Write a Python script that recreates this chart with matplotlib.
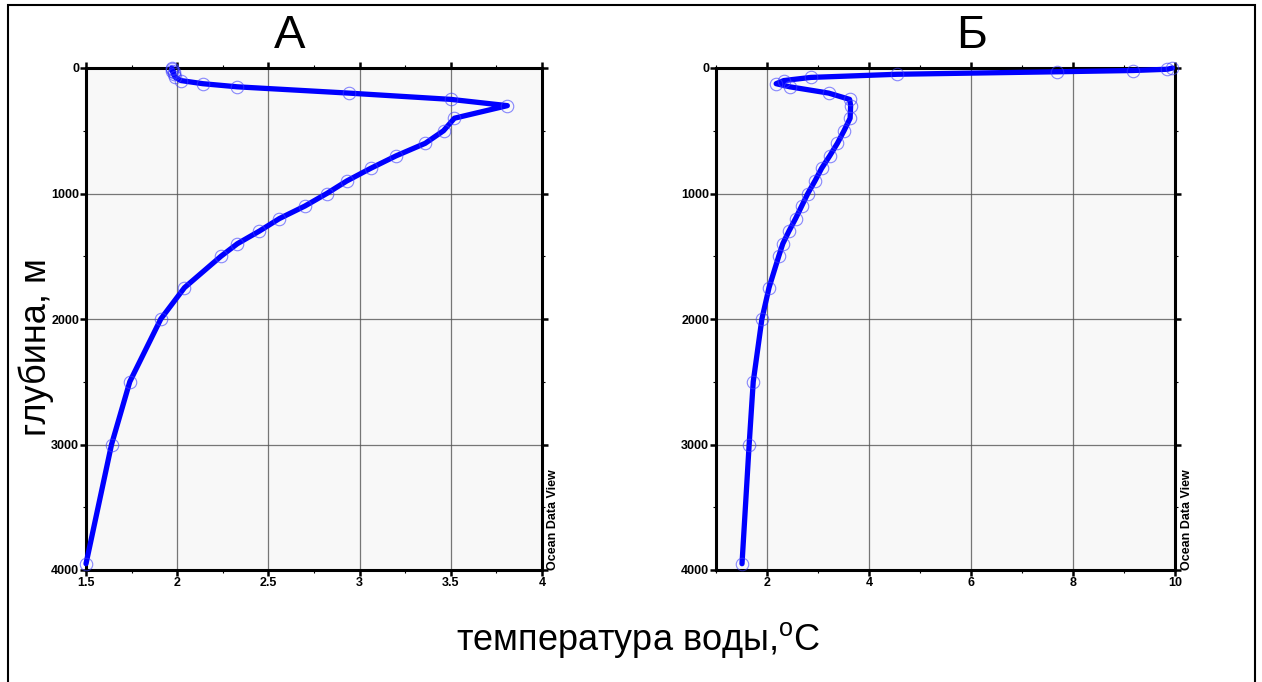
import numpy as np
import matplotlib
matplotlib.use("Agg")
import matplotlib.pyplot as plt
from matplotlib.patches import Rectangle
from matplotlib.ticker import MultipleLocator

plt.rcParams['font.family'] = ['Liberation Sans', 'DejaVu Sans']
plt.rcParams['mathtext.fontset'] = 'custom'
plt.rcParams['mathtext.rm'] = 'Liberation Sans'

# ---------------- data ----------------
depth_a = [0, 10, 20, 30, 50, 75, 100, 125, 150, 200, 250, 300, 400, 500, 600,
           700, 800, 900, 1000, 1100, 1200, 1300, 1400, 1500, 1750, 2000,
           2500, 3000, 3950]
temp_a = [1.97, 1.97, 1.97, 1.98, 1.98, 1.99, 2.02, 2.14, 2.33, 2.94, 3.50, 3.81,
          3.52, 3.46, 3.36, 3.20, 3.06, 2.93, 2.82, 2.70, 2.56, 2.45, 2.33,
          2.24, 2.04, 1.91, 1.74, 1.64, 1.50]

depth_b = [0, 10, 20, 30, 50, 75, 100, 125, 150, 200, 250, 300, 400, 500, 600,
           700, 800, 900, 1000, 1100, 1200, 1300, 1400, 1500, 1750, 2000,
           2500, 3000, 3950]
temp_b = [9.95, 9.85, 9.17, 7.69, 4.55, 2.86, 2.33, 2.18, 2.45, 3.21, 3.62, 3.64,
          3.63, 3.51, 3.38, 3.23, 3.07, 2.94, 2.80, 2.68, 2.56, 2.43, 2.31,
          2.23, 2.04, 1.90, 1.73, 1.65, 1.51]

xticks_a = [1.5, 2, 2.5, 3, 3.5, 4]
xtick_labels_a = ["1.5", "2", "2.5", "3", "3.5", "4"]
xticks_b = [2, 4, 6, 8, 10]
xtick_labels_b = ["2", "4", "6", "8", "10"]
yticks = [0, 1000, 2000, 3000, 4000]
ytick_labels = ["0", "1000", "2000", "3000", "4000"]

W, H = 1262, 682
fig = plt.figure(figsize=(W / 100, H / 100), dpi=100)

# outer frame
fig.patches.append(Rectangle((8 / W, -0.05), 1247 / W, 1.05 - 5 / H,
                             transform=fig.transFigure, fill=False,
                             edgecolor="black", linewidth=1.5))


def draw_panel(rect, depth, temp, xlim, xticks, xlabels, minor):
    ax = fig.add_axes(rect)
    ax.set_facecolor("#f8f8f8")
    ax.plot(temp, depth, color="#0000ff", lw=3.8, zorder=3, clip_on=False,
            solid_capstyle="round", solid_joinstyle="round")
    ax.plot(temp, depth, ls="none", marker="o", ms=9, mfc="none",
            mec="#3c3cff", mew=0.8, alpha=0.6, zorder=4, clip_on=False)
    ax.set_xlim(*xlim)
    ax.set_ylim(4000, 0)
    ax.set_xticks(xticks)
    ax.set_xticklabels(xlabels, fontsize=9, fontweight="bold")
    ax.set_yticks(yticks)
    ax.set_yticklabels(ytick_labels, fontsize=9, fontweight="bold")
    ax.xaxis.set_minor_locator(MultipleLocator(minor))
    ax.yaxis.set_minor_locator(MultipleLocator(500))
    ax.grid(True, which="major", color="#555555", lw=0.9, alpha=0.8, zorder=1)
    ax.tick_params(which="both", top=True, right=True, direction="out",
                   width=1.8, pad=1)
    ax.tick_params(which="major", length=4)
    ax.tick_params(which="minor", length=2, width=0.8)
    for s in ax.spines.values():
        s.set_linewidth(2.2)
    ax.text(1.012, 0.0, "Ocean Data View", transform=ax.transAxes,
            rotation=90, ha="left", va="bottom", fontsize=9,
            fontweight="bold")
    return ax


draw_panel([86 / W, 112 / H, 456 / W, 502 / H], depth_a, temp_a,
           (1.5, 4), xticks_a, xtick_labels_a, 0.25)
draw_panel([716 / W, 112 / H, 459 / W, 502 / H], depth_b, temp_b,
           (1, 10), xticks_b, xtick_labels_b, 1)

fig.text(290 / W, 1 - 36 / H, "А", fontsize=34, ha="center", va="center",
         fontstretch="condensed")
fig.text(972 / W, 1 - 36 / H, "Б", fontsize=34, ha="center", va="center",
         fontstretch="condensed")
fig.text(36 / W, 1 - 347 / H, "глубина, м", fontsize=26, rotation=90,
         ha="center", va="center")
fig.text(638 / W, 1 - 640 / H, "температура воды,$^{\\mathrm{o}}$C",
         fontsize=26, ha="center", va="center")

fig.savefig("out.png", dpi=100)
